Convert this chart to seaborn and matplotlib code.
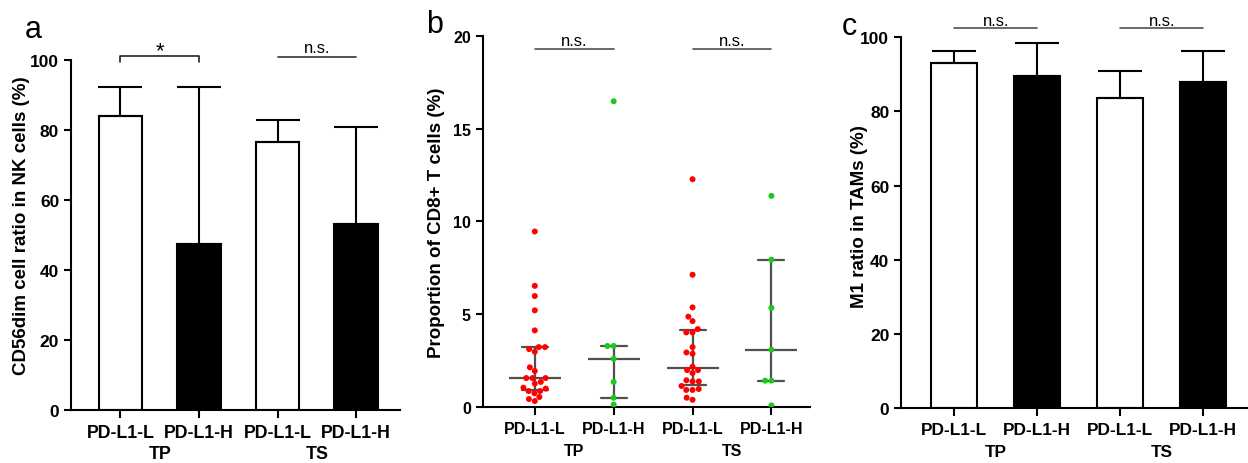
import numpy as np
import pandas as pd
import matplotlib
matplotlib.use("Agg")
import matplotlib.pyplot as plt
import seaborn as sns

# categories
keys = ["TP_L", "TP_H", "TS_L", "TS_H"]
levels = ["PD-L1-L", "PD-L1-H", "PD-L1-L", "PD-L1-H"]
groups = ["TP", "TS"]

# panel a: CD56dim cell ratio in NK cells, mean and SD (upper whisker only)
nk_mean = [83.9, 47.4, 76.7, 53.1]
nk_sd = [8.5, 45.0, 6.2, 27.9]

# panel c: M1 ratio in TAMs
m1_mean = [93.1, 89.6, 83.6, 88.0]
m1_sd = [3.1, 8.9, 7.3, 8.3]

# panel b: proportion of CD8+ T cells per sample
cd8_tp_l = [9.46, 6.53, 5.98, 5.21, 4.13, 3.23, 3.23, 3.12, 2.98, 2.14, 1.94, 1.56,
            1.56, 1.56, 1.35, 1.26, 1.04, 0.99, 0.86, 0.86, 0.74, 0.54, 0.43, 0.32]
cd8_tp_h = [16.48, 3.29, 3.29, 2.60, 1.35, 0.50, 0.13]
cd8_ts_l = [12.28, 7.13, 5.37, 4.87, 4.63, 4.20, 4.02, 4.02, 3.23, 2.94, 2.87, 2.17,
            1.99, 1.99, 1.83, 1.44, 1.38, 1.38, 1.13, 0.97, 0.92, 0.92, 0.50, 0.39]
cd8_ts_h = [11.38, 7.94, 5.35, 3.09, 1.42, 1.42, 0.09]

bar_colors = {"PD-L1-L": "white", "PD-L1-H": "black"}
dot_colors = {"PD-L1-L": "#ff0000", "PD-L1-H": "#1ec81e"}
line_gray = "#505050"

sns.set_style("ticks")
plt.rcParams["font.family"] = ["Liberation Sans", "DejaVu Sans"]
plt.rcParams["font.weight"] = "bold"
plt.rcParams["axes.labelweight"] = "bold"
plt.rcParams["axes.linewidth"] = 1.5
for k in ["text.color", "axes.labelcolor", "xtick.color", "ytick.color", "axes.edgecolor"]:
    plt.rcParams[k] = "black"


def iqr(x):
    # GraphPad style quartiles
    return (np.percentile(x, 25, method="weibull"), np.percentile(x, 75, method="weibull"))


def style_axis(ax, ylim, yticks, xlim, ylabel, label_xy, xfs, yfs):
    ax.set_ylim(*ylim)
    ax.set_yticks(yticks)
    ax.set_xlim(*xlim)
    ax.set_xticks(range(4))
    ax.set_xticklabels(levels)
    ax.set_xlabel("")
    ax.set_ylabel(ylabel, fontsize=13.5)
    ax.yaxis.set_label_coords(*label_xy)
    ax.tick_params(axis="both", direction="out", length=5, width=1.5)
    ax.tick_params(axis="y", labelsize=yfs)
    ax.tick_params(axis="x", labelsize=xfs, length=6, pad=4)
    sns.despine(ax=ax)
    for i, g in enumerate(groups):
        ax.annotate(g, xy=(2 * i + 0.5, 0), xycoords=("data", "axes fraction"),
                    xytext=(0, -31), textcoords="offset points",
                    ha="center", va="center", fontsize=xfs, fontweight="bold")


def bar_panel(ax, means, sds):
    df = pd.DataFrame({"key": keys, "level": levels, "val": means})
    sns.barplot(data=df, x="key", y="val", hue="level", order=keys,
                palette=bar_colors, edgecolor="black", linewidth=1.5,
                width=0.55, dodge=False, errorbar=None, legend=False, ax=ax)
    ax.errorbar(np.arange(4), means, yerr=[np.zeros(4), sds], fmt="none",
                ecolor="black", elinewidth=1.5, capsize=16, capthick=1.5, zorder=1)


fig = plt.figure(figsize=(12.48, 4.64), dpi=100)
ax_a = fig.add_axes([0.0569, 0.1142, 0.2636, 0.7543])
ax_b = fig.add_axes([0.3868, 0.1207, 0.2623, 0.7996])
ax_c = fig.add_axes([0.7220, 0.1179, 0.2780, 0.7996])

# ---- a
bar_panel(ax_a, nk_mean, nk_sd)
style_axis(ax_a, (0, 100), range(0, 101, 20), (-0.63, 3.56),
           "CD56dim cell ratio in NK cells (%)", (-0.125, 0.53), 12.8, 12.5)
ax_a.plot([0, 0, 1, 1], [99.3, 101.2, 101.2, 99.3], color="#222222", lw=1.2, clip_on=False)
ax_a.text(0.5, 101.0, "*", ha="center", va="baseline", fontsize=16, fontweight="normal")
ax_a.plot([2, 3], [101.0, 101.0], color="#333333", lw=1.2, clip_on=False)
ax_a.text(2.5, 102.2, "n.s.", ha="center", va="baseline", fontsize=12, fontweight="normal")

# ---- b
cd8 = pd.DataFrame({
    "key": ["TP_L"] * len(cd8_tp_l) + ["TP_H"] * len(cd8_tp_h)
           + ["TS_L"] * len(cd8_ts_l) + ["TS_H"] * len(cd8_ts_h),
    "val": cd8_tp_l + cd8_tp_h + cd8_ts_l + cd8_ts_h,
})
cd8["level"] = cd8["key"].map(dict(zip(keys, levels)))
sns.swarmplot(data=cd8, x="key", y="val", hue="level", order=keys,
              palette=dot_colors, size=4.3, linewidth=0, legend=False, ax=ax_b)
sns.pointplot(data=cd8, x="key", y="val", order=keys, estimator="median",
              errorbar=iqr, capsize=0.33, color=line_gray, markers="_",
              linestyles="none", markersize=38, markeredgewidth=1.6,
              err_kws={"linewidth": 1.6}, ax=ax_b)
style_axis(ax_b, (0, 20), range(0, 21, 5), (-0.66, 3.49),
           "Proportion of CD8+ T cells (%)", (-0.115, 0.5), 11.5, 11.5)
for x0 in (0, 2):
    ax_b.plot([x0, x0 + 1], [19.3, 19.3], color=line_gray, lw=1.2, clip_on=False)
    ax_b.text(x0 + 0.5, 19.5, "n.s.", ha="center", va="baseline", fontsize=12,
              fontweight="normal")

# ---- c
bar_panel(ax_c, m1_mean, m1_sd)
style_axis(ax_c, (0, 100), range(0, 101, 20), (-0.64, 3.54), "M1 ratio in TAMs (%)",
           (-0.095, 0.52), 12.4, 12.5)
for x0 in (0, 2):
    ax_c.plot([x0, x0 + 1], [102.4, 102.4], color=line_gray, lw=1.2, clip_on=False)
    ax_c.text(x0 + 0.5, 103.3, "n.s.", ha="center", va="baseline", fontsize=12,
              fontweight="normal")

# panel letters
for lab, xp, yp in [("a", 33, 30), ("b", 435, 25), ("c", 849, 27)]:
    fig.text(xp / 1248, 1 - yp / 464, lab, ha="center", va="center",
             fontsize=22, fontweight="normal")

fig.savefig("out.png", dpi=100)
